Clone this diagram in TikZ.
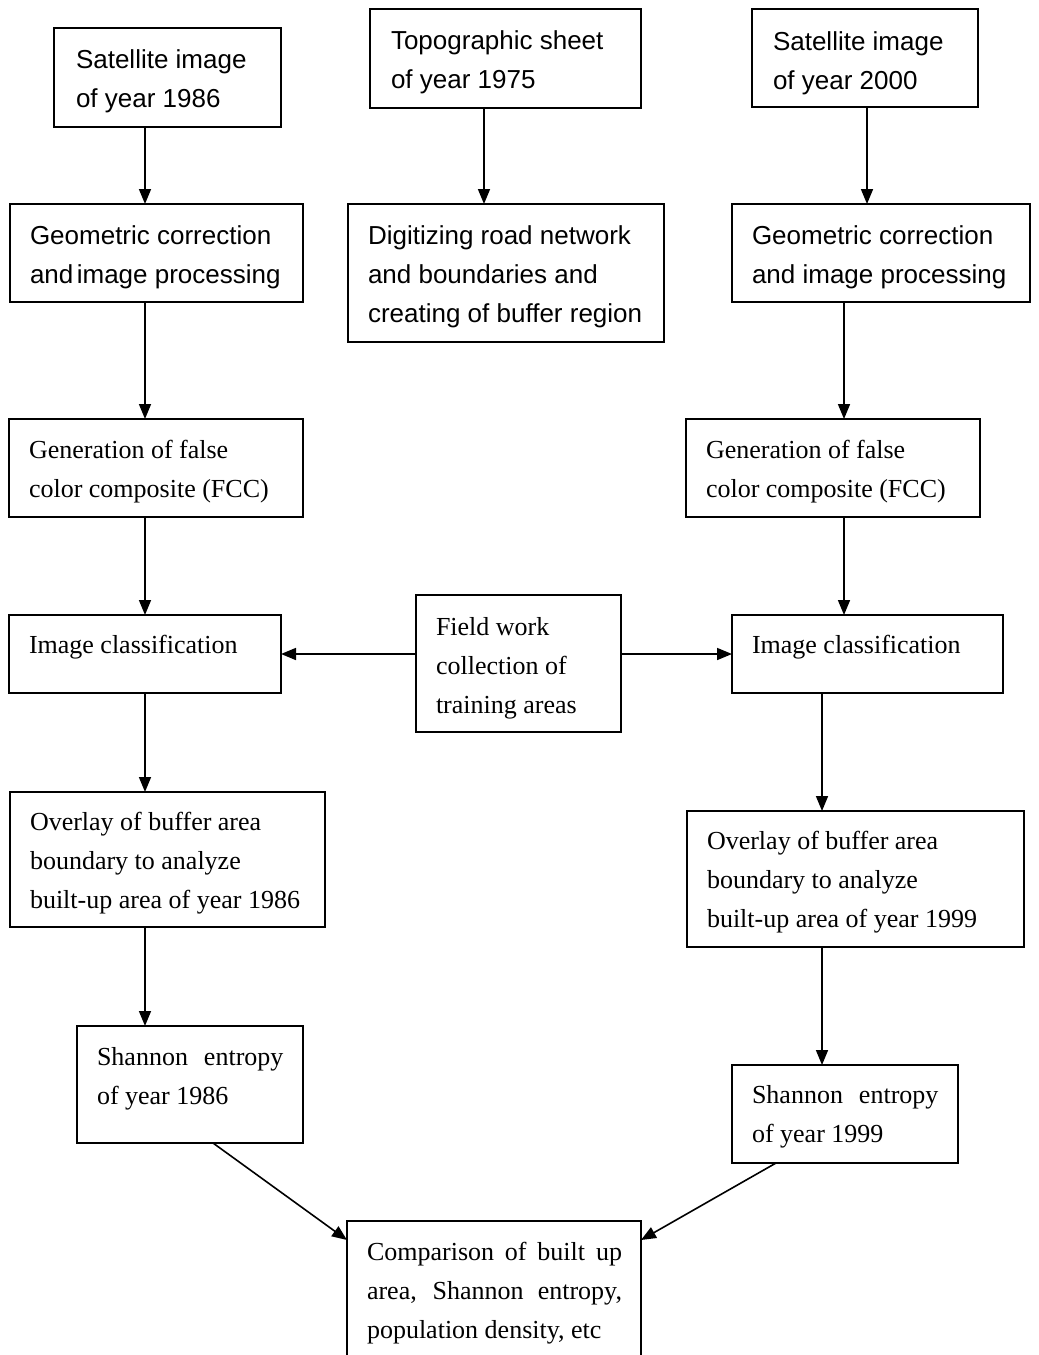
\documentclass[tikz,border=0pt]{standalone}
\usepackage{fontspec}
\setmainfont{Liberation Serif}
\setsansfont{Liberation Sans}
\usetikzlibrary{arrows.meta}
\newcommand{\rmtext}[2][420pt]{\parbox[t]{#1}{\fontsize{26}{39}\selectfont\rmfamily\hyphenpenalty=10000\exhyphenpenalty=10000 #2}}
\newcommand{\sftext}[1]{\parbox[t]{420pt}{\fontsize{26}{39}\selectfont\sffamily #1}}
\begin{document}
\begin{tikzpicture}[x=1pt,y=-1pt,
  bx/.style={draw, line width=2pt, outer sep=0pt, inner sep=0pt, anchor=north west},
  tx/.style={anchor=base west, inner sep=0pt, outer sep=0pt},
  ar/.style={line width=1.6pt, -{Triangle[length=15pt,width=12pt]}}]
\useasboundingbox (0,0) rectangle (1039,1355);
\clip (0,0) rectangle (1039,1355);

% boxes
\node[bx, minimum width=227, minimum height=99] (a1) at (54,28) {};
\node[bx, minimum width=271, minimum height=99] (b1) at (370,9) {};
\node[bx, minimum width=226, minimum height=98] (c1) at (752,9) {};
\node[bx, minimum width=293, minimum height=98] (a2) at (10,204) {};
\node[bx, minimum width=316, minimum height=138] (b2) at (348,204) {};
\node[bx, minimum width=298, minimum height=98] (c2) at (732,204) {};
\node[bx, minimum width=294, minimum height=98] (a3) at (9,419) {};
\node[bx, minimum width=294, minimum height=98] (c3) at (686,419) {};
\node[bx, minimum width=272, minimum height=78] (a4) at (9,615) {};
\node[bx, minimum width=205, minimum height=137] (f) at (416,595) {};
\node[bx, minimum width=271, minimum height=78] (c4) at (732,615) {};
\node[bx, minimum width=315, minimum height=135] (a5) at (10,792) {};
\node[bx, minimum width=337, minimum height=136] (c5) at (687,811) {};
\node[bx, minimum width=226, minimum height=117] (a6) at (77,1026) {};
\node[bx, minimum width=226, minimum height=98] (c6) at (732,1065) {};
\node[bx, minimum width=294, minimum height=200] (g) at (347,1221) {};

% texts
\node[tx] (ta1) at (76,68) {\sftext{Satellite image\\of year 1986}};
\node[tx] (tb1) at (391,49) {\sftext{Topographic sheet\\of year 1975}};
\node[tx] (tc1) at (773,50) {\sftext{Satellite image\\of year 2000}};
\node[tx] (ta2) at (30,244) {\sftext{Geometric correction\\and\hspace{3.5pt}image processing}};
\node[tx] (tb2) at (368,244) {\sftext{Digitizing road network\\and boundaries and\\creating of buffer region}};
\node[tx] (tc2) at (752,244) {\sftext{Geometric correction\\and image processing}};
\node[tx] (ta3) at (29,458) {\rmtext{Generation of false\\color composite (FCC)}};
\node[tx] (tc3) at (706,458) {\rmtext{Generation of false\\color composite (FCC)}};
\node[tx] (ta4) at (29,653) {\rmtext{Image classification}};
\node[tx] (tf) at (436,635) {\rmtext{Field work\\collection of\\training areas}};
\node[tx] (tc4) at (752,653) {\rmtext{Image classification}};
\node[tx] (ta5) at (30,830) {\rmtext{Overlay of buffer area\\boundary to analyze\\built-up area of year 1986}};
\node[tx] (tc5) at (707,849) {\rmtext{Overlay of buffer area\\boundary to analyze\\built-up area of year 1999}};
\node[tx] (ta6) at (97,1065) {\rmtext{Shannon\hspace{16pt}entropy\\of year 1986}};
\node[tx] (tc6) at (752,1103) {\rmtext{Shannon\hspace{16pt}entropy\\of year 1999}};
\node[tx] (tg) at (367,1260) {\rmtext[255pt]{Comparison of built up area, Shannon entropy, population density, etc}};

% connectors
\draw[ar] (145,0|-a1.south) -- (145,0|-a2.north);
\draw[ar] (145,0|-a2.south) -- (145,0|-a3.north);
\draw[ar] (145,0|-a3.south) -- (145,0|-a4.north);
\draw[ar] (145,0|-a4.south) -- (145,0|-a5.north);
\draw[ar] (145,0|-a5.south) -- (145,0|-a6.north);
\draw[ar] (484,0|-b1.south) -- (484,0|-b2.north);
\draw[ar] (867,0|-c1.south) -- (867,0|-c2.north);
\draw[ar] (844,0|-c2.south) -- (844,0|-c3.north);
\draw[ar] (844,0|-c3.south) -- (844,0|-c4.north);
\draw[ar] (822,0|-c4.south) -- (822,0|-c5.north);
\draw[ar] (822,0|-c5.south) -- (822,0|-c6.north);
\draw[ar] (f.west|-a4.east) -- (a4.east);
\draw[ar] (f.east|-c4.west) -- (c4.west);
\draw[ar] ([xshift=23pt]a6.south) -- ([yshift=-19pt]g.north west);
\draw[ar] ([xshift=-69pt]c6.south) -- ([yshift=-19pt]g.north east);
\end{tikzpicture}
\end{document}
